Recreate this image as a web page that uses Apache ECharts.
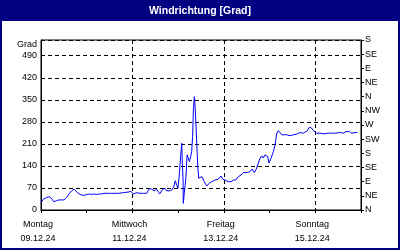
<!DOCTYPE html>
<html>
<head>
<meta charset="utf-8">
<script src="https://cdn.jsdelivr.net/npm/echarts@6/dist/echarts.min.js"></script>
<style>
html,body{margin:0;padding:0;background:#fff;}
#c{width:400px;height:250px;}
</style>
</head>
<body>
<div id="c"></div>
<script>
// time in hours since Mon 09.12.24 00:00
var hours = [0,1.2,3.0,4.7,5.8,6.8,8.2,9.5,11.0,12.1,13.5,14.9,16.1,17.5,18.2,19.1,20.1,21.4,22.6,24.0,
  25.4,26.6,27.8,29.2,30.6,31.9,33.6,35.3,37.1,40.6,43.2,45.8,47.3,48.5,50.2,52.0,53.7,55.5,56.2,57.0,
  58.1,59.5,60.7,62.3,63.9,65.1,66.0,67.4,68.8,69.8,70.5,71.2,71.9,72.6,73.3,73.9,74.2,74.6,74.7,75.2,
  75.6,76.1,76.7,77.3,77.9,78.6,79.1,79.6,80.0,80.5,81.0,81.7,82.3,82.8,83.5,84.5,85.7,87.0,88.0,89.6,
  91.4,93.1,94.5,95.4,96.6,98.3,99.8,101.0,102.2,103.6,105.0,106.2,107.1,108.5,109.7,110.9,112.0,113.0,114.1,115.0,
  115.9,116.7,117.6,118.5,119.0,119.7,120.8,122.0,122.9,123.7,124.6,125.5,126.4,127.2,129.0,130.7,132.5,134.2,136.0,137.7,
  138.6,139.8,140.9,142.1,143.0,143.9,144.7,145.6,146.5,148.2,150.8,152.6,154.4,157.0,158.7,160.1,161.9,163.1,164.9,166.1];
var degrees = [23,34,40,42,34,26,30,32,32,32,40,53,61,66,66,55,51,47,47,49,
  51,49,51,49,51,51,53,53,53,53,55,57,59,51,55,53,53,53,61,68,
  66,61,66,51,66,69,61,61,64,76,93,80,69,111,170,212,149,95,21,53,
  74,106,175,165,154,170,186,233,318,360,318,223,138,101,104,106,90,76,83,90,
  95,98,108,98,95,90,90,95,95,106,111,119,114,119,122,130,119,130,149,165,
  172,165,175,178,170,149,165,186,207,242,252,252,239,239,239,236,239,241,246,244,
  248,252,263,260,252,257,244,239,244,242,244,244,244,246,244,249,249,244,246,246];

var xTickLabels = ['Montag\n09.12.24','','Mittwoch\n11.12.24','','Freitag\n13.12.24','','Sonntag\n15.12.24',''];
var leftTickLabels = ['0','70','140','210','280','350','420','490'];
var rightTickLabels = ['N','NE','E','SE','S','SW','W','NW','N','NE','E','SE','S'];
var titleText = 'Windrichtung [Grad]';
var leftUnit = 'Grad';

var seriesData = hours.map(function(h,i){return [h, degrees[i]];});
var FONT = 'Liberation Sans';

var chart = echarts.init(document.getElementById('c'), null, {renderer:'canvas'});
chart.setOption({
  animation:false,
  backgroundColor:'#ffffff',
  title:{show:false},
  graphic:[
    {type:'rect', z:-10, shape:{x:0,y:0,width:400,height:21}, style:{fill:'#000080'}},
    {type:'rect', z:-10, shape:{x:1,y:1,width:398,height:248}, style:{fill:null,stroke:'#000080',lineWidth:2}},
    {type:'text', z:10, x:200, y:11, style:{text:titleText, fill:'#ffffff', font:'bold 10.5px "Liberation Sans"', align:'center', verticalAlign:'middle'}},
    {type:'text', z:10, x:37, y:45, style:{text:leftUnit, fill:'#000', font:'9px "Liberation Sans"', align:'right', verticalAlign:'middle'}}
  ],
  grid:{left:41, top:40, right:39, bottom:40, show:true, borderColor:'#000', borderWidth:1, backgroundColor:'#fff'},
  xAxis:{
    type:'value', min:0, max:168, interval:24,
    axisLine:{show:true, lineStyle:{color:'#000', width:1}},
    axisTick:{show:true, length:3, inside:false, lineStyle:{color:'#000'}},
    axisLabel:{
      show:true, margin:8, color:'#000', fontFamily:FONT, fontSize:9, lineHeight:14,
      padding:[0,6,0,0],
      formatter:function(v){var i=Math.round(v/24); return xTickLabels[i]||'';},
      showMaxLabel:true, showMinLabel:true
    },
    splitLine:{show:true, lineStyle:{color:['#000','rgba(0,0,0,0)'], type:[4,3], width:1}}
  },
  yAxis:[
    {
      type:'value', position:'left', min:0, max:540, interval:70,
      axisLine:{show:true, lineStyle:{color:'#000'}},
      axisTick:{show:false},
      axisLabel:{margin:4, color:'#000', fontFamily:FONT, fontSize:9,
        formatter:function(v){var i=Math.round(v/70); return (v%70===0 && leftTickLabels[i]!==undefined)?leftTickLabels[i]:'';}},
      splitLine:{show:true, lineStyle:{color:'#000', type:[4,3], width:1}}
    },
    {
      type:'value', position:'right', min:0, max:540, interval:45,
      axisLine:{show:true, lineStyle:{color:'#000'}},
      axisTick:{show:true, length:3, inside:false, lineStyle:{color:'#000'}},
      axisLabel:{margin:4, color:'#000', fontFamily:FONT, fontSize:9,
        formatter:function(v){return rightTickLabels[Math.round(v/45)]||'';}},
      splitLine:{show:false}
    }
  ],
  series:[{
    type:'line', yAxisIndex:0, data:seriesData, showSymbol:false, symbol:'none',
    lineStyle:{color:'#0000ff', width:1}, smooth:false, z:5
  }]
});
</script>
</body>
</html>
